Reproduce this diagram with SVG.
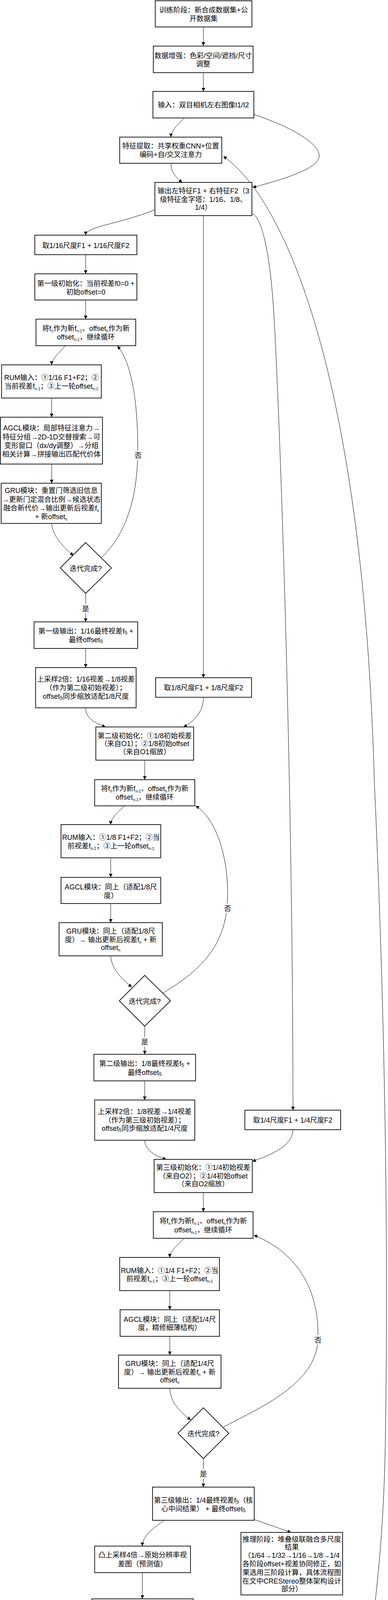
<svg xmlns="http://www.w3.org/2000/svg" width="992" height="4796" viewBox="0 0 992 4796">
<style>
.b{fill:#fff;stroke:#222;stroke-width:2}
.c{fill:none;stroke:#000;stroke-width:1}
.t{font-family:"Liberation Sans","Noto Sans CJK SC",sans-serif;font-size:18px;fill:#000;text-anchor:middle}
.s{font-size:10px}
.s2{font-size:13px}
.lb{fill:#fff;stroke:none}
.wm{font-family:"Liberation Sans","Noto Sans CJK SC",sans-serif;font-size:18px;fill:#c4c4c4}
</style>
<defs>
<marker id="ah" viewBox="0 0 10 10" refX="10" refY="5" markerWidth="9" markerHeight="9" markerUnits="userSpaceOnUse" orient="auto"><path d="M0,0 L10,5 L0,10 z" fill="#000"/></marker>
</defs>
<rect width="992" height="4796" fill="#fff"/>
<g id="connectors">
<path class="c" marker-end="url(#ah)" d="M520,69 L520,117"/>
<path class="c" marker-end="url(#ah)" d="M520,186 L520,234"/>
<path class="c" marker-end="url(#ah)" d="M471,302 C455,318 437,335 437,351"/>
<path class="c" marker-end="url(#ah)" d="M649,293 C760,330 825,375 815,405 C805,435 720,460 646,480"/>
<path class="c" marker-end="url(#ah)" d="M437,418 C437,440 450,455 466,467"/>
<path class="c" marker-end="url(#ah)" d="M396,537 C300,575 219,580 219,602"/>
<path class="c" marker-end="url(#ah)" d="M520,552 L520,1735"/>
<path class="c" marker-end="url(#ah)" d="M645,547 C668,555 690,640 700,800 C715,1050 749,2000 749,2842"/>
<path class="c" marker-end="url(#ah)" d="M219,652 L219,701"/>
<path class="c" marker-end="url(#ah)" d="M219,768 L219,817"/>
<path class="c" marker-end="url(#ah)" d="M167,885 C150,905 132,920 132,934"/>
<path class="c" marker-end="url(#ah)" d="M259,1428 C320,1370 350,1280 352,1167 C354,1050 340,930 300,886"/>
<path class="c" marker-end="url(#ah)" d="M132,1019 L132,1068"/>
<path class="c" marker-end="url(#ah)" d="M132,1188 L132,1237"/>
<path class="c" marker-end="url(#ah)" d="M132,1340 C134,1370 160,1400 188,1422"/>
<path class="c" marker-end="url(#ah)" d="M219,1519 L219,1592"/>
<path class="c" marker-end="url(#ah)" d="M219,1660 L219,1709"/>
<path class="c" marker-end="url(#ah)" d="M219,1812 C219,1840 245,1852 270,1861"/>
<path class="c" marker-end="url(#ah)" d="M520,1785 C520,1820 500,1845 469,1861"/>
<path class="c" marker-end="url(#ah)" d="M370,1946 L370,1996"/>
<path class="c" marker-end="url(#ah)" d="M319,2063 C300,2080 283,2095 283,2111"/>
<path class="c" marker-end="url(#ah)" d="M417,2542 C520,2480 570,2420 580,2325 C590,2220 560,2100 500,2063"/>
<path class="c" marker-end="url(#ah)" d="M283,2196 L283,2246"/>
<path class="c" marker-end="url(#ah)" d="M283,2313 L283,2362"/>
<path class="c" marker-end="url(#ah)" d="M283,2447 C285,2480 310,2505 337,2527"/>
<path class="c" marker-end="url(#ah)" d="M370,2627 L370,2699"/>
<path class="c" marker-end="url(#ah)" d="M370,2767 L370,2816"/>
<path class="c" marker-end="url(#ah)" d="M370,2919 C370,2945 400,2960 425,2968"/>
<path class="c" marker-end="url(#ah)" d="M749,2892 C749,2930 700,2955 645,2973"/>
<path class="c" marker-end="url(#ah)" d="M520,3053 L520,3102"/>
<path class="c" marker-end="url(#ah)" d="M471,3170 C450,3190 434,3205 434,3219"/>
<path class="c" marker-end="url(#ah)" d="M572,3653 C650,3610 800,3550 812,3440 C820,3330 780,3215 649,3162"/>
<path class="c" marker-end="url(#ah)" d="M434,3304 L434,3353"/>
<path class="c" marker-end="url(#ah)" d="M434,3421 L434,3469"/>
<path class="c" marker-end="url(#ah)" d="M434,3554 C436,3590 460,3615 488,3635"/>
<path class="c" marker-end="url(#ah)" d="M520,3734 L520,3807"/>
<path class="c" marker-end="url(#ah)" d="M420,3892 C395,3910 364,3930 364,3958"/>
<path class="c" marker-end="url(#ah)" d="M650,3890 L744,3923"/>
<path class="c" marker-end="url(#ah)" d="M364,4026 L364,4093"/>
<path class="c" marker-end="url(#ah)" d="M364,4196 L364,4244"/>
<path class="c" marker-end="url(#ah)" d="M364,4347 L364,4396"/>
<path class="c" marker-end="url(#ah)" d="M364,4463 L364,4513"/>
<path class="c" marker-end="url(#ah)" d="M364,4563 L364,4612"/>
<path class="c" marker-end="url(#ah)" d="M364,4679 C368,4700 420,4715 474,4730"/>
<path class="c" marker-end="url(#ah)" d="M731,4737 C870,4690 975,4250 985,3700 C995,3100 980,2500 957,2000 C930,1000 740,520 571,400"/>
<rect class="lb" x="343" y="1153" width="20" height="24"/>
<text class="t" x="353" y="1172">否</text>
<rect class="lb" x="209" y="1546" width="20" height="24"/>
<text class="t" x="219" y="1565">是</text>
<rect class="lb" x="572" y="2313" width="20" height="24"/>
<text class="t" x="582" y="2332">否</text>
<rect class="lb" x="360" y="2655" width="20" height="24"/>
<text class="t" x="370" y="2674">是</text>
<rect class="lb" x="803" y="3418" width="20" height="24"/>
<text class="t" x="813" y="3437">否</text>
<rect class="lb" x="510" y="3761" width="20" height="24"/>
<text class="t" x="520" y="3780">是</text>
</g>
<g id="n1"><rect class="b" x="397" y="2" width="247" height="67"/><text class="t" x="520.5" y="31.5">训练阶段：新合成数据集+公</text><text class="t" x="520.5" y="53.5">开数据集</text></g>
<g id="n2"><rect class="b" x="392" y="118" width="255" height="68"/><text class="t" x="519.5" y="148.5">数据增强：色彩/空间/遮挡/尺寸</text><text class="t" x="519.5" y="169.5">调整</text></g>
<g id="n3"><rect class="b" x="391" y="234" width="258" height="68"/><text class="t" x="520" y="274.5">输入：双目相机左右图像I1/I2</text></g>
<g id="n4"><rect class="b" x="306" y="351" width="261" height="67"/><text class="t" x="436.5" y="380">特征提取：共享权重CNN+位置</text><text class="t" x="436.5" y="402">编码+自/交叉注意力</text></g>
<g id="n5"><rect class="b" x="396" y="467" width="248" height="85"/><text class="t" x="520" y="494.5">输出左特征F1 + 右特征F2（3</text><text class="t" x="520" y="516.5">级特征金字塔：1/16、1/8、</text><text class="t" x="520" y="536.5">1/4）</text></g>
<g id="n6"><rect class="b" x="89" y="602" width="261" height="50"/><text class="t" x="219.5" y="634.5">取1/16尺度F1 + 1/16尺度F2</text></g>
<g id="n7"><rect class="b" x="89" y="701" width="261" height="67"/><text class="t" x="219.5" y="731.5">第一级初始化：当前视差f0=0 +</text><text class="t" x="219.5" y="753.5">初始offset=0</text></g>
<g id="n8"><rect class="b" x="92" y="817" width="255" height="68"/><text class="t" x="219.5" y="846.5">将f<tspan class="s" dy="4">n</tspan><tspan dy="-4">作为新f</tspan><tspan class="s" dy="4">n-1</tspan><tspan dy="-4">、offset</tspan><tspan class="s" dy="4">n</tspan><tspan dy="-4">作为新</tspan></text><text class="t" x="219.5" y="868.5">offset<tspan class="s" dy="4">n-1</tspan><tspan dy="-4">，继续循环</tspan></text></g>
<g id="n9"><rect class="b" x="4" y="934" width="255" height="85"/><text class="t" x="131.5" y="972.5">RUM输入：①1/16 F1+F2；②</text><text class="t" x="131.5" y="994.5">当前视差f<tspan class="s" dy="4">n-1</tspan><tspan dy="-4">；③上一轮offset</tspan><tspan class="s" dy="4">n-1</tspan></text></g>
<g id="n10"><rect class="b" x="1" y="1068" width="261" height="120"/><text class="t" x="131.5" y="1101.5">AGCL模块：局部特征注意力→</text><text class="t" x="131.5" y="1124.5">特征分组→2D-1D交替搜索→可</text><text class="t" x="131.5" y="1146.5">变形窗口（dx/dy调整）→分组</text><text class="t" x="131.5" y="1168.5">相关计算→拼接输出匹配代价体</text></g>
<g id="n11"><rect class="b" x="3" y="1237" width="256" height="103"/><text class="t" x="131" y="1261.5">GRU模块：重置门筛选旧信息</text><text class="t" x="131" y="1284.5">→更新门定混合比例→候选状态</text><text class="t" x="131" y="1306.5">融合新代价→输出更新后视差f<tspan class="s" dy="4">n</tspan></text><text class="t" x="131" y="1328.5">+ 新offset<tspan class="s" dy="4">n</tspan></text></g>
<g id="d1"><polygon class="b" points="219,1389 285,1454 219,1519 154,1454"/><text class="t" x="219" y="1461.5">迭代完成?</text></g>
<g id="n12"><rect class="b" x="87" y="1592" width="265" height="68"/><text class="t" x="219.5" y="1621.5">第一级输出：1/16最终视差f<tspan class="s2" dy="2">5</tspan><tspan dy="-2"> +</tspan></text><text class="t" x="219.5" y="1643.5">最终offset<tspan class="s2" dy="2">5</tspan></text></g>
<g id="n13"><rect class="b" x="91" y="1709" width="257" height="103"/><text class="t" x="219.5" y="1744.5">上采样2倍：1/16视差→1/8视差</text><text class="t" x="219.5" y="1766.5">（作为第二级初始视差）；</text><text class="t" x="219.5" y="1788.5">offset<tspan class="s2" dy="2">5</tspan><tspan dy="-2">同步缩放适配1/8尺度</tspan></text></g>
<g id="n14"><rect class="b" x="398" y="1735" width="245" height="50"/><text class="t" x="520.5" y="1766.5">取1/8尺度F1 + 1/8尺度F2</text></g>
<g id="n15"><rect class="b" x="245" y="1861" width="250" height="85"/><text class="t" x="370" y="1889.5">第二级初始化：①1/8初始视差</text><text class="t" x="370" y="1909.5">（来自O1）；②1/8初始offset</text><text class="t" x="370" y="1930.5">（来自O1缩放）</text></g>
<g id="n16"><rect class="b" x="242" y="1996" width="256" height="67"/><text class="t" x="370" y="2024.5">将f<tspan class="s" dy="4">n</tspan><tspan dy="-4">作为新f</tspan><tspan class="s" dy="4">n-1</tspan><tspan dy="-4">、offset</tspan><tspan class="s" dy="4">n</tspan><tspan dy="-4">作为新</tspan></text><text class="t" x="370" y="2046.5">offset<tspan class="s" dy="4">n-1</tspan><tspan dy="-4">，继续循环</tspan></text></g>
<g id="n17"><rect class="b" x="156" y="2111" width="255" height="85"/><text class="t" x="283.5" y="2149.5">RUM输入：①1/8 F1+F2；②当</text><text class="t" x="283.5" y="2171.5">前视差f<tspan class="s" dy="4">n-1</tspan><tspan dy="-4">；③上一轮offset</tspan><tspan class="s" dy="4">n-1</tspan></text></g>
<g id="n18"><rect class="b" x="156" y="2246" width="255" height="67"/><text class="t" x="283.5" y="2276.5">AGCL模块：同上（适配1/8尺</text><text class="t" x="283.5" y="2298.5">度）</text></g>
<g id="n19"><rect class="b" x="151" y="2362" width="264" height="85"/><text class="t" x="283" y="2389.5">GRU模块：同上（适配1/8尺</text><text class="t" x="283" y="2411.5">度）→ 输出更新后视差f<tspan class="s" dy="4">n</tspan><tspan dy="-4"> + 新</tspan></text><text class="t" x="283" y="2431.5">offset<tspan class="s" dy="4">n</tspan></text></g>
<g id="d2"><polygon class="b" points="370,2497 436,2562 370,2627 305,2562"/><text class="t" x="370" y="2569.5">迭代完成?</text></g>
<g id="n20"><rect class="b" x="240" y="2699" width="260" height="68"/><text class="t" x="370" y="2728.5">第二级输出：1/8最终视差f<tspan class="s2" dy="2">5</tspan><tspan dy="-2"> +</tspan></text><text class="t" x="370" y="2751.5">最终offset<tspan class="s2" dy="2">5</tspan></text></g>
<g id="n21"><rect class="b" x="242" y="2816" width="256" height="103"/><text class="t" x="370" y="2851.5">上采样2倍：1/8视差→1/4视差</text><text class="t" x="370" y="2873.5">（作为第三级初始视差）；</text><text class="t" x="370" y="2894.5">offset<tspan class="s2" dy="2">5</tspan><tspan dy="-2">同步缩放适配1/4尺度</tspan></text></g>
<g id="n22"><rect class="b" x="626" y="2842" width="245" height="50"/><text class="t" x="748.5" y="2873.5">取1/4尺度F1 + 1/4尺度F2</text></g>
<g id="n23"><rect class="b" x="394" y="2968" width="251" height="85"/><text class="t" x="519.5" y="2994.5">第三级初始化：①1/4初始视差</text><text class="t" x="519.5" y="3016.5">（来自O2）；②1/4初始offset</text><text class="t" x="519.5" y="3036.5">（来自O2缩放）</text></g>
<g id="n24"><rect class="b" x="392" y="3102" width="255" height="68"/><text class="t" x="519.5" y="3131.5">将f<tspan class="s" dy="4">n</tspan><tspan dy="-4">作为新f</tspan><tspan class="s" dy="4">n-1</tspan><tspan dy="-4">、offset</tspan><tspan class="s" dy="4">n</tspan><tspan dy="-4">作为新</tspan></text><text class="t" x="519.5" y="3154.5">offset<tspan class="s" dy="4">n-1</tspan><tspan dy="-4">，继续循环</tspan></text></g>
<g id="n25"><rect class="b" x="306" y="3219" width="255" height="85"/><text class="t" x="433.5" y="3258.5">RUM输入：①1/4 F1+F2；②当</text><text class="t" x="433.5" y="3279.5">前视差f<tspan class="s" dy="4">n-1</tspan><tspan dy="-4">；③上一轮offset</tspan><tspan class="s" dy="4">n-1</tspan></text></g>
<g id="n26"><rect class="b" x="307" y="3353" width="254" height="68"/><text class="t" x="434" y="3383.5">AGCL模块：同上（适配1/4尺</text><text class="t" x="434" y="3404.5">度，精修细薄结构）</text></g>
<g id="n27"><rect class="b" x="303" y="3469" width="262" height="85"/><text class="t" x="434" y="3496.5">GRU模块：同上（适配1/4尺</text><text class="t" x="434" y="3518.5">度）→ 输出更新后视差f<tspan class="s" dy="4">n</tspan><tspan dy="-4"> + 新</tspan></text><text class="t" x="434" y="3538.5">offset<tspan class="s" dy="4">n</tspan></text></g>
<g id="d3"><polygon class="b" points="520,3604 585,3669 520,3734 455,3669"/><text class="t" x="520" y="3676.5">迭代完成?</text></g>
<g id="n28"><rect class="b" x="390" y="3807" width="260" height="85"/><text class="t" x="520" y="3846.5">第三级输出：1/4最终视差f<tspan class="s2" dy="2">5</tspan><tspan dy="-2">（核</tspan></text><text class="t" x="520" y="3868.5">心中间结果） + 最终offset<tspan class="s2" dy="2">5</tspan></text></g>
<g id="n29"><rect class="b" x="242" y="3958" width="245" height="68"/><text class="t" x="364.5" y="3986.5">凸上采样4倍→原始分辨率视</text><text class="t" x="364.5" y="4009.5">差图（预测值）</text></g>
<g id="n30"><rect class="b" x="616" y="3923" width="260" height="160"/><text class="t" x="746" y="3946.5">推理阶段：堆叠级联融合多尺度</text><text class="t" x="746" y="3966.5">结果</text><text class="t" x="746" y="3987.5">（1/64→1/32→1/16→1/8→1/4</text><text class="t" x="746" y="4009.5">各阶段offset+视差协同修正，如</text><text class="t" x="746" y="4031.5">果选用三阶段计算，具体流程图</text><text class="t" x="746" y="4053.5">在文中CREStereo整体架构设计</text><text class="t" x="746" y="4073.5">部分）</text></g>
<g id="n31"><rect class="b" x="235" y="4093" width="259" height="103"/><text class="t" x="364.5" y="4129.5">输入真实视差d_gt，计算损失函</text><text class="t" x="364.5" y="4151.5">数：指数加权L1距离（含1/16、</text><text class="t" x="364.5" y="4173.5">1/8、1/4各级迭代视差贡献）</text></g>
<g id="n32"><rect class="b" x="235" y="4244" width="259" height="103"/><text class="t" x="364.5" y="4269.5">反向传播：更新特征提取网络、</text><text class="t" x="364.5" y="4291.5">AGCL、GRU的所有权重</text><text class="t" x="364.5" y="4313.5">（Adam优化器，300,000迭</text><text class="t" x="364.5" y="4334.5">代）</text></g>
<g id="n33"><rect class="b" x="237" y="4396" width="255" height="67"/><text class="t" x="364.5" y="4436.5">训练完成：保存最优模型权重</text></g>
<g id="n34"><rect class="b" x="621" y="4110" width="246" height="67"/><text class="t" x="744" y="4141.5">凸上采样4倍→原始分辨率视</text><text class="t" x="744" y="4161.5">差图（最终预测值）</text></g>
<g id="n35"><rect class="b" x="614" y="4253" width="262" height="85"/><text class="t" x="745" y="4289.5">输出最终视差图（用于后续深度</text><text class="t" x="745" y="4311.5">计算：深度∝基线×焦距/视差）</text></g>
<g id="n36"><rect class="b" x="245" y="4513" width="239" height="50"/><text class="t" x="364.5" y="4544.5">模型部署：加载最优权重</text></g>
<g id="n37"><rect class="b" x="237" y="4612" width="255" height="67"/><text class="t" x="364.5" y="4641.5">推理阶段：接收新的双目相机</text><text class="t" x="364.5" y="4663.5">图像I1/I2</text></g>
<g id="n38"><rect class="b" x="475" y="4728" width="256" height="67"/><text class="t" x="603" y="4756.5">构建图像金字塔：</text><text class="t" x="603" y="4778.5">1/64→1/32→1/16→1/8→1/4</text></g>
<text class="wm" x="781" y="4785">CSDN @2501_90596733</text>
</svg>
